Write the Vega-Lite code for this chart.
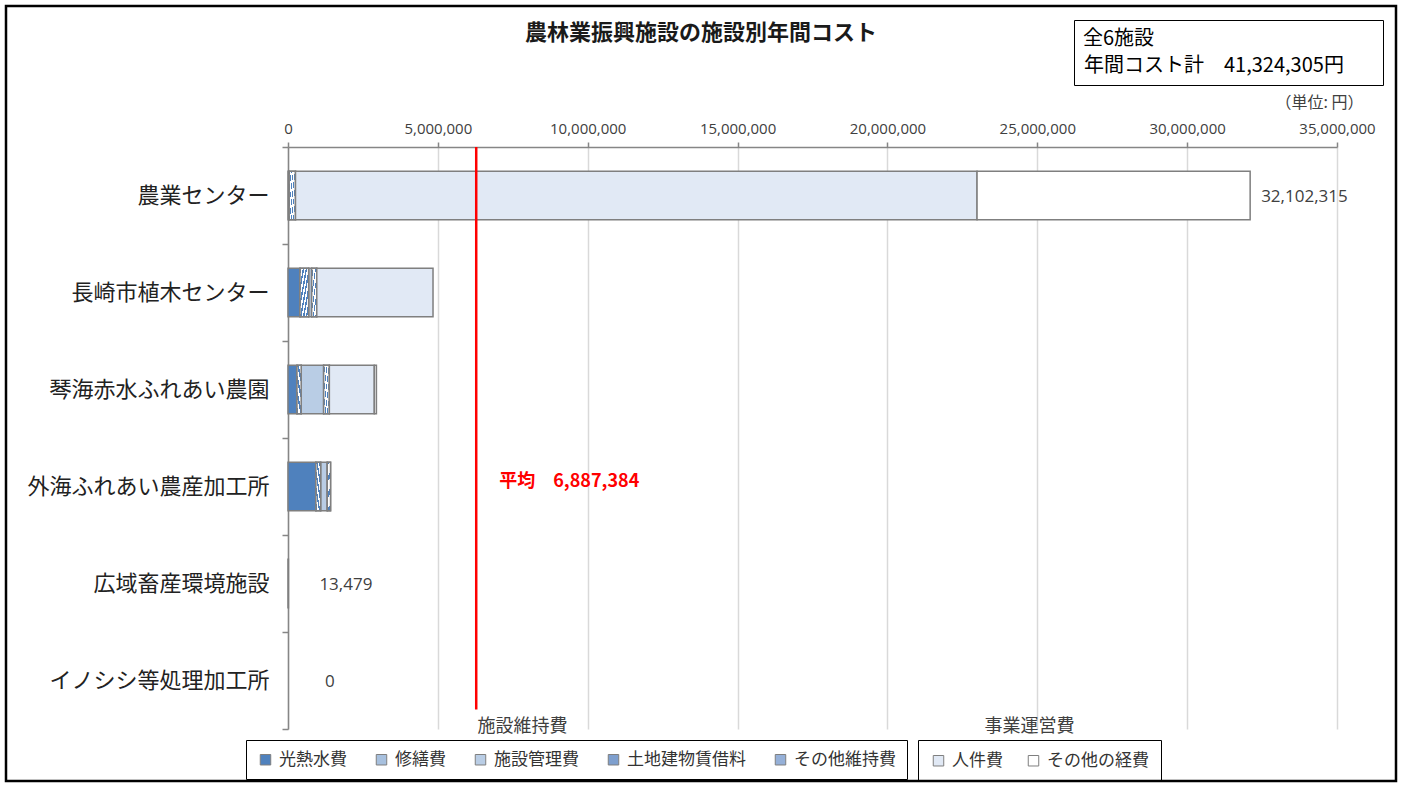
{
  "$schema": "https://vega.github.io/schema/vega-lite/v6.json",
  "width": 1390,
  "height": 775,
  "autosize": {"type": "none"},
  "padding": {"left": 6, "top": 6, "right": 6, "bottom": 4},
  "background": "white",
  "config": {
    "font": "Noto Sans CJK JP",
    "view": {"stroke": "#000000", "strokeWidth": 2.5}
  },
  "title": {
    "text": "農林業振興施設の施設別年間コスト",
    "fontSize": 22,
    "fontWeight": "bold",
    "color": "#1a1a1a",
    "anchor": "middle",
    "frame": "group",
    "offset": -50
  },
  "datasets": {
    "costs": [
      {"facility": "農業センター", "category": "光熱水費", "group": "施設維持費", "order": 1, "value": 40000},
      {"facility": "農業センター", "category": "その他維持費", "group": "施設維持費", "order": 5, "value": 210000},
      {"facility": "農業センター", "category": "人件費", "group": "事業運営費", "order": 6, "value": 22740000},
      {"facility": "農業センター", "category": "その他の経費", "group": "事業運営費", "order": 7, "value": 9112315},
      {"facility": "長崎市植木センター", "category": "光熱水費", "group": "施設維持費", "order": 1, "value": 400000},
      {"facility": "長崎市植木センター", "category": "修繕費", "group": "施設維持費", "order": 2, "value": 290000},
      {"facility": "長崎市植木センター", "category": "施設管理費", "group": "施設維持費", "order": 3, "value": 100000},
      {"facility": "長崎市植木センター", "category": "その他維持費", "group": "施設維持費", "order": 5, "value": 170000},
      {"facility": "長崎市植木センター", "category": "人件費", "group": "事業運営費", "order": 6, "value": 3878511},
      {"facility": "琴海赤水ふれあい農園", "category": "光熱水費", "group": "施設維持費", "order": 1, "value": 300000},
      {"facility": "琴海赤水ふれあい農園", "category": "修繕費", "group": "施設維持費", "order": 2, "value": 140000},
      {"facility": "琴海赤水ふれあい農園", "category": "施設管理費", "group": "施設維持費", "order": 3, "value": 750000},
      {"facility": "琴海赤水ふれあい農園", "category": "その他維持費", "group": "施設維持費", "order": 5, "value": 190000},
      {"facility": "琴海赤水ふれあい農園", "category": "人件費", "group": "事業運営費", "order": 6, "value": 1500000},
      {"facility": "琴海赤水ふれあい農園", "category": "その他の経費", "group": "事業運営費", "order": 7, "value": 70000},
      {"facility": "外海ふれあい農産加工所", "category": "光熱水費", "group": "施設維持費", "order": 1, "value": 930000},
      {"facility": "外海ふれあい農産加工所", "category": "修繕費", "group": "施設維持費", "order": 2, "value": 160000},
      {"facility": "外海ふれあい農産加工所", "category": "施設管理費", "group": "施設維持費", "order": 3, "value": 220000},
      {"facility": "外海ふれあい農産加工所", "category": "その他維持費", "group": "施設維持費", "order": 5, "value": 110000},
      {"facility": "広域畜産環境施設", "category": "光熱水費", "group": "施設維持費", "order": 1, "value": 13479}
    ],
    "totals": [
      {"facility": "農業センター", "total": 32102315},
      {"facility": "広域畜産環境施設", "total": 13479},
      {"facility": "イノシシ等処理加工所", "total": 0}
    ],
    "average": [
      {"facility": "外海ふれあい農産加工所", "pos": 6280000, "label": "平均　6,887,384"}
    ],
    "summary": [
      {"k": "年間コスト計　41,324,305円\u2800\u2800"}
    ]
  },
  "layer": [
    {
      "data": {"name": "costs"},
      "transform": [
        {"stack": "value", "groupby": ["facility"], "sort": [{"field": "order", "order": "ascending"}], "as": ["x0", "x1"]},
        {"filter": "datum.group === '施設維持費'"}
      ],
      "mark": {"type": "bar", "height": {"band": 0.5}, "stroke": "#7f7f7f", "strokeWidth": 1.5},
      "encoding": {
        "x": {
          "field": "x0", "type": "quantitative",
          "scale": {"domain": [0, 35000000], "range": [282, 1331], "nice": false, "zero": true},
          "axis": {
            "orient": "top", "offset": -141,
            "values": [0, 5000000, 10000000, 15000000, 20000000, 25000000, 30000000, 35000000],
            "format": ",d", "labelFlush": false,
            "grid": true, "gridColor": "#d9d9d9", "gridWidth": 1.5,
            "domainColor": "#868686", "domainWidth": 1.5,
            "tickColor": "#868686", "tickWidth": 1.5, "tickSize": 5,
            "labelFont": "Open Sans", "labelFontSize": 15, "labelColor": "#404040", "labelPadding": 6,
            "title": "（単位: 円）", "titleFontSize": 16, "titleFontWeight": "normal", "titleColor": "#404040",
            "titleX": 1357, "titleY": -45, "titleAlign": "right", "titleBaseline": "middle"
          }
        },
        "x2": {"field": "x1"},
        "y": {
          "field": "facility", "type": "nominal",
          "scale": {"domain": ["農業センター", "長崎市植木センター", "琴海赤水ふれあい農園", "外海ふれあい農産加工所", "広域畜産環境施設", "イノシシ等処理加工所"], "range": [141, 723], "paddingInner": 0, "paddingOuter": 0},
          "axis": {
            "orient": "left", "offset": -282, "title": null,
            "tickBand": "extent", "grid": false,
            "domainColor": "#868686", "domainWidth": 1.5,
            "tickColor": "#868686", "tickWidth": 1.5, "tickSize": 6,
            "labelFontSize": 22, "labelColor": "#222222", "labelPadding": 13, "labelLimit": 400
          }
        },
        "fill": {
          "field": "category", "type": "nominal",
          "scale": {
            "domain": ["光熱水費", "修繕費", "施設管理費", "土地建物賃借料", "その他維持費"],
            "range": ["#4F81BD", "#A7C0DE", "#B9CDE5", "#7E9FCE", "#95B0D8"]
          },
          "legend": {
            "orient": "none", "legendX": 240, "legendY": 734,
            "direction": "horizontal", "columns": 5, "columnPadding": 26,
            "title": null, "padding": 11, "strokeColor": "#000000",
            "symbolType": "square", "symbolSize": 110, "symbolStrokeColor": "#7f7f7f", "symbolStrokeWidth": 1,
            "labelFontSize": 17, "labelColor": "#333333", "labelOffset": 5
          }
        }
      }
    },
    {
      "data": {"name": "costs"},
      "transform": [
        {"stack": "value", "groupby": ["facility"], "sort": [{"field": "order", "order": "ascending"}], "as": ["x0", "x1"]},
        {"filter": "datum.category === '修繕費'"}
      ],
      "mark": {
        "type": "bar", "height": {"band": 0.5}, "stroke": "#7f7f7f", "strokeWidth": 1.5,
        "fill": {"gradient": "linear", "x1": 0, "y1": 0, "x2": 1, "y2": 1, "stops": [
          {"offset": 0, "color": "#4F81BD"}, {"offset": 0.083, "color": "#4F81BD"}, {"offset": 0.083, "color": "#FFFFFF"}, {"offset": 0.167, "color": "#FFFFFF"},
          {"offset": 0.167, "color": "#4F81BD"}, {"offset": 0.25, "color": "#4F81BD"}, {"offset": 0.25, "color": "#FFFFFF"}, {"offset": 0.333, "color": "#FFFFFF"},
          {"offset": 0.333, "color": "#4F81BD"}, {"offset": 0.417, "color": "#4F81BD"}, {"offset": 0.417, "color": "#FFFFFF"}, {"offset": 0.5, "color": "#FFFFFF"},
          {"offset": 0.5, "color": "#4F81BD"}, {"offset": 0.583, "color": "#4F81BD"}, {"offset": 0.583, "color": "#FFFFFF"}, {"offset": 0.667, "color": "#FFFFFF"},
          {"offset": 0.667, "color": "#4F81BD"}, {"offset": 0.75, "color": "#4F81BD"}, {"offset": 0.75, "color": "#FFFFFF"}, {"offset": 0.833, "color": "#FFFFFF"},
          {"offset": 0.833, "color": "#4F81BD"}, {"offset": 0.917, "color": "#4F81BD"}, {"offset": 0.917, "color": "#FFFFFF"}, {"offset": 1, "color": "#FFFFFF"}
        ]}
      },
      "encoding": {
        "x": {"field": "x0", "type": "quantitative", "axis": null},
        "x2": {"field": "x1"},
        "y": {"field": "facility", "type": "nominal"}
      }
    },
    {
      "data": {"name": "costs"},
      "transform": [
        {"stack": "value", "groupby": ["facility"], "sort": [{"field": "order", "order": "ascending"}], "as": ["x0", "x1"]},
        {"filter": "datum.category === 'その他維持費'"}
      ],
      "mark": {
        "type": "bar", "height": {"band": 0.5}, "stroke": "#7f7f7f", "strokeWidth": 1.5,
        "fill": {"gradient": "linear", "x1": 0, "y1": 1, "x2": 1, "y2": 0, "stops": [
          {"offset": 0, "color": "#4F81BD"}, {"offset": 0.06, "color": "#4F81BD"}, {"offset": 0.06, "color": "#FFFFFF"}, {"offset": 0.167, "color": "#FFFFFF"},
          {"offset": 0.167, "color": "#4F81BD"}, {"offset": 0.227, "color": "#4F81BD"}, {"offset": 0.227, "color": "#FFFFFF"}, {"offset": 0.333, "color": "#FFFFFF"},
          {"offset": 0.333, "color": "#4F81BD"}, {"offset": 0.393, "color": "#4F81BD"}, {"offset": 0.393, "color": "#FFFFFF"}, {"offset": 0.5, "color": "#FFFFFF"},
          {"offset": 0.5, "color": "#4F81BD"}, {"offset": 0.56, "color": "#4F81BD"}, {"offset": 0.56, "color": "#FFFFFF"}, {"offset": 0.667, "color": "#FFFFFF"},
          {"offset": 0.667, "color": "#4F81BD"}, {"offset": 0.727, "color": "#4F81BD"}, {"offset": 0.727, "color": "#FFFFFF"}, {"offset": 0.833, "color": "#FFFFFF"},
          {"offset": 0.833, "color": "#4F81BD"}, {"offset": 0.893, "color": "#4F81BD"}, {"offset": 0.893, "color": "#FFFFFF"}, {"offset": 1, "color": "#FFFFFF"}
        ]}
      },
      "encoding": {
        "x": {"field": "x0", "type": "quantitative", "axis": null},
        "x2": {"field": "x1"},
        "y": {"field": "facility", "type": "nominal"}
      }
    },
    {
      "data": {"name": "costs"},
      "transform": [
        {"stack": "value", "groupby": ["facility"], "sort": [{"field": "order", "order": "ascending"}], "as": ["x0", "x1"]},
        {"filter": "datum.group === '事業運営費'"}
      ],
      "mark": {"type": "bar", "height": {"band": 0.5}, "stroke": "#7f7f7f", "strokeWidth": 1.5},
      "encoding": {
        "x": {"field": "x0", "type": "quantitative", "axis": null},
        "x2": {"field": "x1"},
        "y": {"field": "facility", "type": "nominal"},
        "fill": {
          "field": "category", "type": "nominal",
          "scale": {"domain": ["人件費", "その他の経費"], "range": ["#E1E9F5", "#FFFFFF"]},
          "legend": {
            "orient": "none", "legendX": 912, "legendY": 734,
            "direction": "horizontal", "columns": 2, "columnPadding": 22,
            "title": null, "padding": 12, "strokeColor": "#000000",
            "symbolType": "square", "symbolSize": 110, "symbolStrokeColor": "#7f7f7f", "symbolStrokeWidth": 1,
            "labelFontSize": 17, "labelColor": "#333333", "labelOffset": 5
          }
        }
      }
    },
    {
      "data": {"name": "average"},
      "mark": {"type": "rule", "color": "#FF0000", "strokeWidth": 2.5},
      "encoding": {
        "x": {
          "field": "pos", "type": "quantitative",
          "axis": {
            "orient": "bottom", "offset": -55,
            "values": [7807000, 24720000],
            "labelExpr": "datum.value < 15000000 ? '施設維持費' : '事業運営費'",
            "ticks": false, "tickSize": 0, "domain": false, "grid": false,
            "labelFontSize": 18, "labelColor": "#404040", "labelPadding": 0, "labelBaseline": "middle", "labelFlush": false,
            "title": null
          }
        },
        "y": {"datum": "農業センター", "type": "nominal", "bandPosition": 0},
        "y2": {"datum": "イノシシ等処理加工所", "bandPosition": 0.8}
      }
    },
    {
      "data": {"name": "average"},
      "mark": {"type": "text", "align": "left", "baseline": "middle", "dx": 23, "dy": -5, "fontSize": 18, "fontWeight": "bold", "color": "#FF0000"},
      "encoding": {
        "x": {"field": "pos", "type": "quantitative", "axis": null},
        "y": {"field": "facility", "type": "nominal"},
        "text": {"field": "label"}
      }
    },
    {
      "data": {"name": "totals"},
      "transform": [{"filter": "datum.total > 1000000"}],
      "mark": {"type": "text", "align": "left", "baseline": "middle", "dx": 11, "dy": 1, "font": "Open Sans", "fontSize": 17, "color": "#404040"},
      "encoding": {
        "x": {"field": "total", "type": "quantitative", "axis": null},
        "y": {"field": "facility", "type": "nominal"},
        "text": {"field": "total", "type": "quantitative", "format": ",d"}
      }
    },
    {
      "data": {"name": "totals"},
      "transform": [{"filter": "datum.total > 0 && datum.total < 1000000"}],
      "mark": {"type": "text", "align": "left", "baseline": "middle", "dx": 31, "dy": 1, "font": "Open Sans", "fontSize": 17, "color": "#404040"},
      "encoding": {
        "x": {"field": "total", "type": "quantitative", "axis": null},
        "y": {"field": "facility", "type": "nominal"},
        "text": {"field": "total", "type": "quantitative", "format": ",d"}
      }
    },
    {
      "data": {"name": "totals"},
      "transform": [{"filter": "datum.total === 0"}],
      "mark": {"type": "text", "align": "left", "baseline": "middle", "dx": 37, "dy": 1, "font": "Open Sans", "fontSize": 17, "color": "#404040"},
      "encoding": {
        "x": {"field": "total", "type": "quantitative", "axis": null},
        "y": {"field": "facility", "type": "nominal"},
        "text": {"field": "total", "type": "quantitative", "format": ",d"}
      }
    },
    {
      "data": {"name": "summary"},
      "mark": {"type": "point", "opacity": 0, "size": 0},
      "encoding": {
        "shape": {
          "field": "k", "type": "nominal",
          "legend": {
            "orient": "none", "legendX": 1068, "legendY": 14,
            "title": "全6施設", "titleFontSize": 20, "titleFontWeight": "normal", "titleColor": "#000000", "titlePadding": 7,
            "labelFontSize": 20, "labelColor": "#000000", "labelOffset": -19, "labelLimit": 500,
            "symbolSize": 0, "symbolOpacity": 0, "symbolStrokeWidth": 0,
            "padding": 9, "strokeColor": "#000000"
          }
        }
      }
    }
  ],
  "resolve": {
    "scale": {"fill": "independent"},
    "legend": {"fill": "independent"},
    "axis": {"x": "independent"}
  }
}
